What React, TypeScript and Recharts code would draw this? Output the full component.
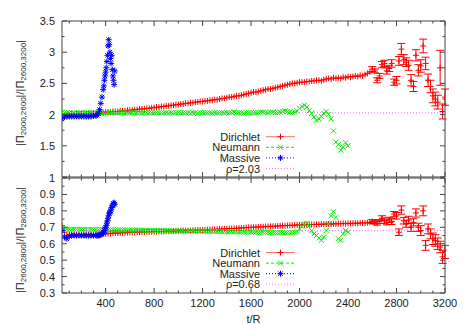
import React from 'react';
import { ScatterChart, Scatter, XAxis, YAxis, ReferenceLine, ErrorBar } from 'recharts';

// ---------- data ----------
const TIMES = [
  40, 60, 80, 100, 120, 140, 160, 180, 200, 220,
  240, 260, 280, 300, 320, 340, 360, 380, 400, 420,
  440, 460, 480, 500, 520, 540, 560, 580, 600, 620,
  640, 660, 680, 700, 720, 740, 760, 780, 800, 820,
  840, 860, 880, 900, 920, 940, 960, 980, 1000, 1020,
  1040, 1060, 1080, 1100, 1120, 1140, 1160, 1180, 1200, 1220,
  1240, 1260, 1280, 1300, 1320, 1340, 1360, 1380, 1400, 1420,
  1440, 1460, 1480, 1500, 1520, 1540, 1560, 1580, 1600, 1620,
  1640, 1660, 1680, 1700, 1720, 1740, 1760, 1780, 1800, 1820,
  1840, 1860, 1880, 1900, 1920, 1940, 1960, 1980, 2000, 2020,
  2040, 2060, 2080, 2100, 2120, 2140, 2160, 2180, 2200, 2220,
  2240, 2260, 2280, 2300, 2320, 2340, 2360, 2380, 2400, 2420,
  2440, 2460, 2480, 2500, 2520, 2540, 2560, 2580, 2600, 2620,
  2640, 2660, 2680, 2700, 2720, 2740, 2760, 2780, 2800, 2820,
  2840, 2860, 2880, 2900, 2920, 2940, 2960, 2980, 3000, 3020,
  3040, 3060, 3080, 3100, 3120, 3140, 3160, 3180, 3200,
];

const MASSIVE_T = [
  40, 60, 80, 100, 120, 140, 160, 180, 200, 220, 240, 260, 280, 300, 320,
  330, 340, 350, 360, 370,
  380, 385, 390, 395, 400, 405, 410, 415, 420, 425, 430, 435, 440, 445, 450, 455, 460, 465, 470, 475,
];

const ERR_START = 2600;

// top panel: |Π2000,2600| / |Π2600,3200|
const DIRICHLET_TOP = [
  2.00, 1.99, 2.00, 2.00, 2.01, 2.00, 2.01, 2.01, 2.01, 2.02,
  2.01, 2.02, 2.02, 2.02, 2.02, 2.03, 2.03, 2.03, 2.04, 2.04,
  2.04, 2.05, 2.05, 2.05, 2.06, 2.06, 2.06, 2.07, 2.07, 2.07,
  2.08, 2.08, 2.09, 2.09, 2.09, 2.10, 2.10, 2.11, 2.11, 2.12,
  2.12, 2.13, 2.13, 2.14, 2.14, 2.15, 2.15, 2.16, 2.16, 2.17,
  2.17, 2.18, 2.18, 2.19, 2.19, 2.20, 2.20, 2.21, 2.21, 2.22,
  2.22, 2.23, 2.23, 2.24, 2.24, 2.25, 2.26, 2.26, 2.27, 2.28,
  2.28, 2.29, 2.30, 2.30, 2.31, 2.32, 2.33, 2.34, 2.35, 2.36,
  2.36, 2.37, 2.38, 2.39, 2.40, 2.41, 2.41, 2.42, 2.43, 2.44,
  2.45, 2.46, 2.47, 2.48, 2.49, 2.50, 2.50, 2.51, 2.52, 2.52,
  2.52, 2.53, 2.53, 2.54, 2.54, 2.55, 2.55, 2.54, 2.56, 2.57,
  2.58, 2.57, 2.59, 2.58, 2.59, 2.58, 2.60, 2.59, 2.61, 2.60,
  2.61, 2.62, 2.61, 2.63, 2.62, 2.64, 2.66, 2.68, 2.73, 2.70,
  2.55, 2.62, 2.80, 2.82, 2.70, 2.74, 2.82, 2.52, 2.55, 2.86,
  3.05, 2.88, 2.84, 2.79, 2.55, 2.45, 2.95, 2.71, 2.78, 3.10,
  2.82, 2.55, 2.45, 2.30, 2.25, 2.20, 2.75, 2.05, 2.28,
];
const DIRICHLET_TOP_ERR = [
  0.04, 0.03, 0.04, 0.04, 0.05, 0.05, 0.05, 0.05, 0.06, 0.05,
  0.06, 0.07, 0.09, 0.08, 0.07, 0.08, 0.09, 0.08, 0.09, 0.09,
  0.10, 0.11, 0.10, 0.10, 0.10, 0.11, 0.11, 0.11, 0.28, 0.12, 0.13,
];
const NEUMANN_TOP = [
  2.04, 2.03, 2.03, 2.03, 2.03, 2.03, 2.03, 2.03, 2.03, 2.03,
  2.03, 2.03, 2.03, 2.03, 2.03, 2.03, 2.03, 2.03, 2.03, 2.03,
  2.03, 2.03, 2.03, 2.03, 2.03, 2.03, 2.02, 2.03, 2.03, 2.03,
  2.03, 2.03, 2.03, 2.02, 2.03, 2.03, 2.03, 2.03, 2.03, 2.03,
  2.03, 2.03, 2.03, 2.03, 2.02, 2.03, 2.03, 2.03, 2.03, 2.03,
  2.03, 2.03, 2.03, 2.02, 2.03, 2.03, 2.02, 2.03, 2.03, 2.03,
  2.03, 2.03, 2.02, 2.03, 2.03, 2.03, 2.03, 2.02, 2.03, 2.03,
  2.03, 2.04, 2.03, 2.03, 2.03, 2.02, 2.03, 2.03, 2.03, 2.03,
  2.03, 2.03, 2.04, 2.04, 2.03, 2.03, 2.04, 2.04, 2.03, 2.03,
  2.04, 2.05, 2.06, 2.05, 2.04, 2.03, 2.04, 2.06, 2.10, 2.13,
  2.15, 2.12, 2.06, 2.02, 1.96, 1.91, 1.93, 1.97, 2.02, 2.05,
  2.00, 1.93, 1.74, 1.56, 1.52, 1.43, 1.48, 1.55, 1.50,
];
const MASSIVE_TOP = [
  1.93, 1.96, 1.97, 1.97, 1.97, 1.97, 1.97, 1.97, 1.97, 1.97, 1.97, 1.97, 1.97, 1.98, 1.98,
  1.99, 2.02, 2.08, 2.18, 2.28,
  2.40, 2.46, 2.55, 2.62, 2.68, 2.75, 2.85, 2.95, 3.10, 3.20, 3.12, 3.00, 2.90, 2.82, 2.95, 2.72, 2.62, 2.55, 2.48, 2.70,
];
const RHO_TOP = 2.03;

// bottom panel: |Π2600,2800| / |Π2800,3200|
const DIRICHLET_BOT = [
  0.71, 0.67, 0.65, 0.655, 0.655, 0.655, 0.655, 0.655, 0.655, 0.655,
  0.655, 0.655, 0.655, 0.655, 0.655, 0.655, 0.658, 0.66, 0.66, 0.662,
  0.663, 0.664, 0.665, 0.665, 0.666, 0.667, 0.667, 0.668, 0.668, 0.669,
  0.669, 0.67, 0.67, 0.671, 0.671, 0.672, 0.672, 0.673, 0.673, 0.674,
  0.674, 0.675, 0.675, 0.676, 0.676, 0.677, 0.677, 0.678, 0.678, 0.679,
  0.679, 0.68, 0.68, 0.681, 0.681, 0.682, 0.683, 0.683, 0.684, 0.685,
  0.685, 0.686, 0.687, 0.687, 0.688, 0.689, 0.69, 0.69, 0.691, 0.692,
  0.692, 0.693, 0.694, 0.695, 0.696, 0.697, 0.698, 0.699, 0.70, 0.70,
  0.701, 0.702, 0.703, 0.703, 0.704, 0.705, 0.706, 0.706, 0.707, 0.708,
  0.709, 0.71, 0.71, 0.711, 0.712, 0.712, 0.713, 0.714, 0.714, 0.715,
  0.715, 0.716, 0.716, 0.717, 0.717, 0.718, 0.718, 0.719, 0.719, 0.72,
  0.72, 0.72, 0.721, 0.721, 0.722, 0.722, 0.723, 0.722, 0.724, 0.723,
  0.724, 0.725, 0.724, 0.726, 0.727, 0.726, 0.728, 0.73, 0.735, 0.73,
  0.725, 0.735, 0.755, 0.74, 0.73, 0.745, 0.735, 0.78, 0.77, 0.67,
  0.805, 0.74, 0.72, 0.745, 0.70, 0.73, 0.787, 0.70, 0.68, 0.80,
  0.59, 0.69, 0.66, 0.63, 0.62, 0.60, 0.58, 0.52, 0.55,
];
const DIRICHLET_BOT_ERR = [
  0.012, 0.01, 0.012, 0.012, 0.015, 0.016, 0.015, 0.016, 0.018, 0.016,
  0.02, 0.02, 0.025, 0.02, 0.02, 0.022, 0.025, 0.022, 0.025, 0.025,
  0.03, 0.03, 0.03, 0.03, 0.03, 0.035, 0.035, 0.035, 0.035, 0.04, 0.04,
];
const NEUMANN_BOT = [
  0.69, 0.69, 0.688, 0.688, 0.688, 0.688, 0.688, 0.687, 0.687, 0.687,
  0.687, 0.687, 0.687, 0.686, 0.686, 0.686, 0.686, 0.686, 0.685, 0.685,
  0.685, 0.685, 0.685, 0.684, 0.684, 0.684, 0.684, 0.684, 0.683, 0.683,
  0.683, 0.683, 0.682, 0.682, 0.682, 0.682, 0.681, 0.681, 0.681, 0.681,
  0.68, 0.68, 0.68, 0.68, 0.679, 0.679, 0.679, 0.679, 0.678, 0.678,
  0.678, 0.678, 0.677, 0.677, 0.677, 0.677, 0.676, 0.676, 0.676, 0.676,
  0.675, 0.675, 0.675, 0.675, 0.674, 0.674, 0.674, 0.674, 0.673, 0.673,
  0.673, 0.673, 0.672, 0.672, 0.672, 0.672, 0.671, 0.671, 0.671, 0.671,
  0.67, 0.67, 0.67, 0.67, 0.669, 0.669, 0.669, 0.669, 0.668, 0.668,
  0.668, 0.668, 0.667, 0.667, 0.667, 0.668, 0.67, 0.675, 0.69, 0.705,
  0.72, 0.725, 0.71, 0.68, 0.66, 0.65, 0.635, 0.62, 0.64, 0.68,
  0.72, 0.77, 0.795, 0.76, 0.63, 0.62, 0.66, 0.68, 0.67,
];
const MASSIVE_BOT = [
  0.68, 0.64, 0.63, 0.645, 0.65, 0.65, 0.65, 0.65, 0.65, 0.65, 0.65, 0.65, 0.65, 0.65, 0.65,
  0.65, 0.65, 0.652, 0.655, 0.66,
  0.665, 0.67, 0.68, 0.69, 0.70, 0.71, 0.725, 0.74, 0.755, 0.77, 0.785, 0.79, 0.80, 0.81, 0.82, 0.83, 0.835, 0.845, 0.85, 0.84,
];
const RHO_BOT = 0.68;

const X_LABELS = [400, 800, 1200, 1600, 2000, 2400, 2800, 3200];
const Y_TOP_LABELS = [1.5, 2, 2.5, 3, 3.5];
const Y_BOT_LABELS = [0.3, 0.4, 0.5, 0.6, 0.7, 0.8, 0.9, 1];

// ---------- helpers ----------
const RED = '#ff0000';
const GREEN = '#00ee00';
const BLUE = '#0000ff';
const PINK = '#ff70ff';
const AXIS = '#444';
const TXT = '#222';
const FONT = '"Liberation Sans", Arial, Helvetica, sans-serif';

const build = (ts: number[], vs: number[], errs?: number[]) => {
  const i0 = ts.indexOf(ERR_START);
  return vs.map((v, i) => ({
    t: ts[i],
    v,
    e: errs && i >= i0 ? errs[i - i0] ?? 0 : 0,
  }));
};

const xTicks: number[] = [];
for (let k = 100; k <= 3200; k += 100) xTicks.push(k);
const yTopTicks: number[] = [];
for (let k = 0; k <= 10; k++) yTopTicks.push(1 + k * 0.25);
const yBotTicks: number[] = [];
for (let k = 0; k <= 14; k++) yBotTicks.push(Math.round((0.3 + k * 0.05) * 100) / 100);

const near = (a: number, b: number) => Math.abs(a - b) < 1e-6;

const plusShape = (props: any) => {
  const { cx, cy } = props;
  if (cx == null || cy == null) return <g />;
  return <path d={`M${cx - 3},${cy}h6M${cx},${cy - 3}v6`} stroke={RED} strokeWidth={1} fill="none" />;
};
const crossShape = (props: any) => {
  const { cx, cy } = props;
  if (cx == null || cy == null) return <g />;
  return <path d={`M${cx - 2.5},${cy - 2.5}l5,5M${cx - 2.5},${cy + 2.5}l5,-5`} stroke={GREEN} strokeWidth={1} fill="none" />;
};
const starShape = (props: any) => {
  const { cx, cy } = props;
  if (cx == null || cy == null) return <g />;
  return (
    <path
      d={`M${cx - 3},${cy}h6M${cx},${cy - 3}v6M${cx - 2.2},${cy - 2.2}l4.4,4.4M${cx - 2.2},${cy + 2.2}l4.4,-4.4`}
      stroke={BLUE}
      strokeWidth={1}
      fill="none"
    />
  );
};

const makeXTick = (dir: number, showLabel: boolean) => (props: any) => {
  const { x, y, payload } = props;
  const v = payload.value;
  const major = v % 400 === 0;
  const len = major ? 5 : 2.5;
  return (
    <g>
      <line x1={x} x2={x} y1={y} y2={y + dir * len} stroke={AXIS} strokeWidth={1} />
      {showLabel && major && X_LABELS.includes(v) ? (
        <text x={x} y={y + 10} textAnchor="middle" dominantBaseline="central" fontSize={11} fill={TXT} fontFamily={FONT}>
          {v}
        </text>
      ) : null}
    </g>
  );
};

const makeYTick = (dir: number, majorStep: number, labels: number[] | null) => (props: any) => {
  const { x, y, payload } = props;
  const v = payload.value;
  const r = v / majorStep;
  const major = Math.abs(r - Math.round(r)) < 1e-6;
  const len = major ? 5 : 2.5;
  const lab = labels ? labels.find((l) => near(l, v)) : undefined;
  return (
    <g>
      <line x1={x} x2={x + dir * len} y1={y} y2={y} stroke={AXIS} strokeWidth={1} />
      {lab !== undefined ? (
        <text x={x - 7} y={y} textAnchor="end" dominantBaseline="central" fontSize={11} fill={TXT} fontFamily={FONT}>
          {String(lab)}
        </text>
      ) : null}
    </g>
  );
};

interface PanelProps {
  width: number;
  height: number;
  margin: { top: number; right: number; left: number; bottom: number };
  yDomain: [number, number];
  yTicks: number[];
  yMajor: number;
  yLabels: number[];
  showXLabels: boolean;
  dir: any[];
  neu: any[];
  mas: any[];
  rho: number;
}

const Panel = (p: PanelProps) => (
  <ScatterChart width={p.width} height={p.height} margin={p.margin}>
    <XAxis
      xAxisId="b"
      dataKey="t"
      type="number"
      orientation="bottom"
      domain={[40, 3200]}
      allowDataOverflow
      ticks={xTicks}
      interval={0}
      height={1}
      tickSize={0}
      tickMargin={0}
      tickLine={false}
      axisLine={{ stroke: AXIS }}
      tick={makeXTick(-1, p.showXLabels)}
    />
    <XAxis
      xAxisId="t"
      dataKey="t"
      type="number"
      orientation="top"
      domain={[40, 3200]}
      allowDataOverflow
      ticks={xTicks}
      interval={0}
      height={1}
      tickSize={0}
      tickMargin={0}
      tickLine={false}
      axisLine={{ stroke: AXIS }}
      tick={makeXTick(1, false)}
    />
    <YAxis
      yAxisId="l"
      dataKey="v"
      type="number"
      orientation="left"
      domain={p.yDomain}
      allowDataOverflow
      ticks={p.yTicks}
      interval={0}
      width={1}
      tickSize={0}
      tickMargin={0}
      tickLine={false}
      axisLine={{ stroke: AXIS }}
      tick={makeYTick(1, p.yMajor, p.yLabels)}
    />
    <YAxis
      yAxisId="r"
      dataKey="v"
      type="number"
      orientation="right"
      domain={p.yDomain}
      allowDataOverflow
      ticks={p.yTicks}
      interval={0}
      width={1}
      tickSize={0}
      tickMargin={0}
      tickLine={false}
      axisLine={{ stroke: AXIS }}
      tick={makeYTick(-1, p.yMajor, null)}
    />
    <Scatter xAxisId="b" yAxisId="l" data={p.dir} shape={plusShape} isAnimationActive={false}>
      <ErrorBar dataKey="e" direction="y" width={4} stroke={RED} strokeWidth={1} />
    </Scatter>
    <Scatter xAxisId="b" yAxisId="l" data={p.neu} shape={crossShape} isAnimationActive={false} />
    <Scatter xAxisId="b" yAxisId="l" data={p.mas} shape={starShape} isAnimationActive={false} />
    <ReferenceLine xAxisId="b" yAxisId="l" y={p.rho} stroke={PINK} strokeWidth={1} strokeDasharray="1 2" />
  </ScatterChart>
);

const LegendBlock = ({ x, y, rho }: { x: number; y: number; rho: number }) => {
  const gap = 10.6;
  const lx1 = x + 6;
  const lx2 = x + 35;
  const mx = (lx1 + lx2) / 2;
  const row = (i: number) => y + i * gap;
  const t = (i: number, s: string) => (
    <text x={x} y={row(i)} textAnchor="end" dominantBaseline="central" fontSize={11} fill={TXT} fontFamily={FONT}>
      {s}
    </text>
  );
  return (
    <g>
      {t(0, 'Dirichlet')}
      <line x1={lx1} x2={lx2} y1={row(0)} y2={row(0)} stroke="#ff7070" strokeWidth={1} />
      <path d={`M${mx - 3},${row(0)}h6M${mx},${row(0) - 3}v6`} stroke={RED} strokeWidth={1} />
      {t(1, 'Neumann')}
      <line x1={lx1} x2={lx2} y1={row(1)} y2={row(1)} stroke={GREEN} strokeWidth={1} strokeDasharray="3 2" />
      <path d={`M${mx - 2.5},${row(1) - 2.5}l5,5M${mx - 2.5},${row(1) + 2.5}l5,-5`} stroke={GREEN} strokeWidth={1} />
      {t(2, 'Massive')}
      <line x1={lx1} x2={lx2} y1={row(2)} y2={row(2)} stroke={BLUE} strokeWidth={1} strokeDasharray="1 2" />
      <path
        d={`M${mx - 3},${row(2)}h6M${mx},${row(2) - 3}v6M${mx - 2.2},${row(2) - 2.2}l4.4,4.4M${mx - 2.2},${row(2) + 2.2}l4.4,-4.4`}
        stroke={BLUE}
        strokeWidth={1}
      />
      {t(3, `ρ=${rho}`)}
      <line x1={lx1} x2={lx2} y1={row(3)} y2={row(3)} stroke={PINK} strokeWidth={1} strokeDasharray="1 2" />
    </g>
  );
};

const YTitle = ({ cx, cy, a, b, c, d }: { cx: number; cy: number; a: string; b: string; c: string; d: string }) => (
  <text
    x={cx}
    y={cy}
    transform={`rotate(-90 ${cx} ${cy})`}
    textAnchor="middle"
    dominantBaseline="central"
    fontSize={11}
    fill={TXT}
    fontFamily={FONT}
  >
    <tspan>|Π</tspan>
    <tspan fontSize={8} dy={3}>{`${a},${b}`}</tspan>
    <tspan dy={-3}>|/|Π</tspan>
    <tspan fontSize={8} dy={3}>{`${c},${d}`}</tspan>
    <tspan dy={-3}>|</tspan>
  </text>
);

export default function App() {
  const dTop = build(TIMES, DIRICHLET_TOP, DIRICHLET_TOP_ERR);
  const nTop = build(TIMES, NEUMANN_TOP);
  const mTop = build(MASSIVE_T, MASSIVE_TOP);
  const dBot = build(TIMES, DIRICHLET_BOT, DIRICHLET_BOT_ERR);
  const nBot = build(TIMES, NEUMANN_BOT);
  const mBot = build(MASSIVE_T, MASSIVE_BOT);

  return (
    <div style={{ position: 'absolute', left: 0, top: 0, width: 463, height: 324, background: '#fff', overflow: 'hidden' }}>
      <div style={{ position: 'absolute', left: 0, top: 0 }}>
        <Panel
          width={463}
          height={178}
          margin={{ top: 20, right: 17, left: 61, bottom: 0 }}
          yDomain={[1, 3.5]}
          yTicks={yTopTicks}
          yMajor={0.5}
          yLabels={Y_TOP_LABELS}
          showXLabels={false}
          dir={dTop}
          neu={nTop}
          mas={mTop}
          rho={RHO_TOP}
        />
      </div>
      <div style={{ position: 'absolute', left: 0, top: 167 }}>
        <Panel
          width={463}
          height={157}
          margin={{ top: 10, right: 17, left: 61, bottom: 30 }}
          yDomain={[0.3, 1]}
          yTicks={yBotTicks}
          yMajor={0.1}
          yLabels={Y_BOT_LABELS}
          showXLabels={true}
          dir={dBot}
          neu={nBot}
          mas={mBot}
          rho={RHO_BOT}
        />
      </div>
      <svg width={463} height={324} style={{ position: 'absolute', left: 0, top: 0, pointerEvents: 'none' }}>
        <LegendBlock x={260} y={136.7} rho={RHO_TOP} />
        <LegendBlock x={260} y={252.5} rho={RHO_BOT} />
        <YTitle cx={20} cy={93} a="2000" b="2600" c="2600" d="3200" />
        <YTitle cx={20} cy={240} a="2600" b="2800" c="2800" d="3200" />
        <text x={253.5} y={319} textAnchor="middle" dominantBaseline="central" fontSize={11} fill={TXT} fontFamily={FONT}>
          t/R
        </text>
      </svg>
    </div>
  );
}
